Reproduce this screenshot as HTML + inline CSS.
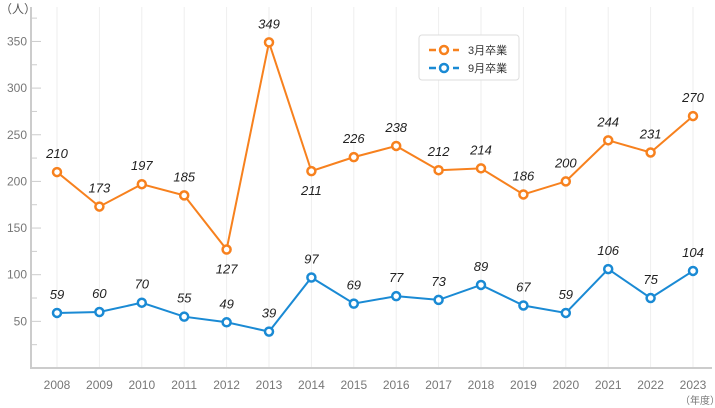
<!DOCTYPE html>
<html><head><meta charset="utf-8"><style>
body{margin:0;background:#fff;}
svg{display:block;font-family:"Liberation Sans","Noto Sans CJK JP",sans-serif;}
</style></head><body>
<svg id="chart" width="715" height="408" viewBox="0 0 715 408"></svg>
<script>
const years=["2008","2009","2010","2011","2012","2013","2014","2015","2016","2017","2018","2019","2020","2021","2022","2023"];
const march=[210,173,197,185,127,349,211,226,238,212,214,186,200,244,231,270];
const sept=[59,60,70,55,49,39,97,69,77,73,89,67,59,106,75,104];
const yTicks=[50,100,150,200,250,300,350];
const NS="http://www.w3.org/2000/svg";
const svg=document.getElementById('chart');
const x0=57,dx=42.4,yBase=368,k=0.933;
const X=i=>x0+i*dx, Y=v=>yBase-v*k;
function el(t,a,p){const e=document.createElementNS(NS,t);for(const n in a)e.setAttribute(n,a[n]);(p||svg).appendChild(e);return e;}
// vertical grid
years.forEach((y,i)=>{const g=el('line',{x1:X(i),x2:X(i),y1:7,y2:yBase,stroke:'#eeeeee','stroke-width':1});


const t=el('text',{x:X(i),y:389,'text-anchor':'middle','font-size':12,fill:'#777'});t.textContent=y;

});
// minor ticks
for(let v=25;v<=375;v+=25){const m=el('line',{x1:31,x2:v%50?37:41,y1:Y(v),y2:Y(v),stroke:'#ccc','stroke-width':1});

}
yTicks.forEach(v=>{const t=el('text',{x:27,y:Y(v)+4,'text-anchor':'end','font-size':12,fill:'#777'});t.textContent=v;

});
const ax=el('path',{d:`M31 7 V${yBase} H712`,fill:'none',stroke:'#ccc','stroke-width':2});


const u=el('text',{x:0,y:13,'font-size':12,fill:'#555'});u.textContent='（人）';


const u2=el('text',{x:680,y:404,'font-size':10,fill:'#777'});u2.textContent='（年度）';


function series(vals,color,name,labelOff){
 const pl=el('polyline',{points:vals.map((v,i)=>X(i)+','+Y(v)).join(' '),fill:'none',stroke:color,'stroke-width':2});
 
 
 vals.forEach((v,i)=>{const c=el('circle',{cx:X(i),cy:Y(v),r:4,fill:'#fff',stroke:color,'stroke-width':2.5});
 
 
 const off=labelOff(i);
 const t=el('text',{x:X(i),y:Y(v)+off,'text-anchor':'middle','font-size':13,'font-style':'italic',fill:'#222'});t.textContent=v;
 
 });
}
series(march,'#f7811e','march',i=>(i===4||i===6)?24:-14);
series(sept,'#1a8ad4','september',i=>-14);
// legend
const lg=el('g',{});


el('rect',{x:419,y:35,width:100,height:45,rx:3,fill:'#fff',stroke:'#ddd'},lg);
[['#f7811e','3月卒業',50],['#1a8ad4','9月卒業',68]].forEach((d,j)=>{
 const g=el('g',{},lg);
 
 
 el('line',{x1:429,x2:459,y1:d[2],y2:d[2],stroke:d[0],'stroke-width':2.5,'stroke-dasharray':'7 5'},g);
 el('circle',{cx:444,cy:d[2],r:4,fill:'#fff',stroke:d[0],'stroke-width':2.5},g);
 const t=el('text',{x:468,y:d[2]+4,'font-size':11,fill:'#333'},g);t.textContent=d[1];
});
</script>
</body></html>
